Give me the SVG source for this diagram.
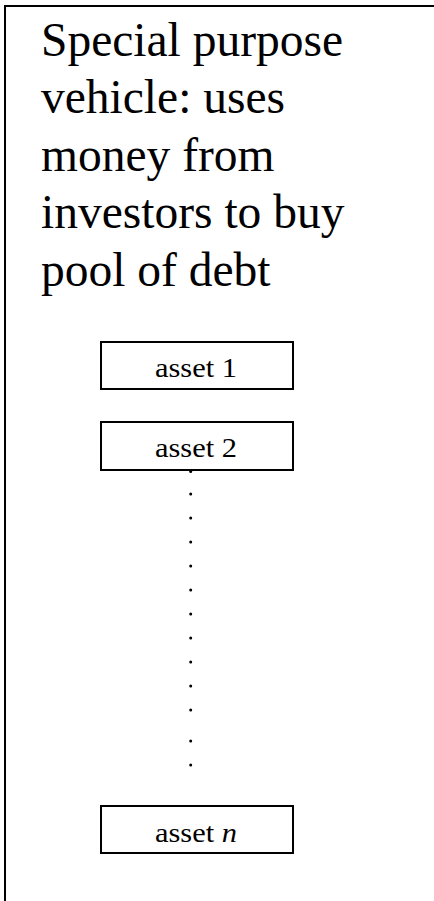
<svg xmlns="http://www.w3.org/2000/svg" width="434" height="901" viewBox="0 0 434 901">
  <style>
    .frame { fill: none; stroke: #000; stroke-width: 2; }
    .box { fill: #fff; stroke: #000; stroke-width: 2; }
    .title { font-family: "Liberation Serif", "Times New Roman", serif; font-size: 47.5px; fill: #000; }
    .label { font-family: "Liberation Serif", "Times New Roman", serif; font-size: 26.5px; fill: #000; text-anchor: middle; }
    .dot { fill: #000; }
  </style>

  <rect width="434" height="901" fill="#fff"/>

  <!-- SPV container: border runs off the right and bottom edges -->
  <g id="spv">
    <rect class="frame" x="5" y="6" width="520" height="1000"/>
    <text class="title">
      <tspan x="41" y="55.7">Special purpose</tspan>
      <tspan x="41" y="113.2">vehicle: uses</tspan>
      <tspan x="41" y="170.8">money from</tspan>
      <tspan x="41" y="228.3">investors to buy</tspan>
      <tspan x="41" y="285.8">pool of debt</tspan>
    </text>
  </g>

  <g id="asset-1">
    <rect class="box" x="101" y="342" width="192" height="47"/>
    <text class="label" x="196" y="377.3" textLength="82" lengthAdjust="spacingAndGlyphs">asset 1</text>
  </g>

  <g id="asset-2">
    <rect class="box" x="101" y="422" width="192" height="48"/>
    <text class="label" x="196" y="457.3" textLength="82" lengthAdjust="spacingAndGlyphs">asset 2</text>
  </g>

  <!-- vertical ellipsis between asset 2 and asset n -->
  <g id="ellipsis">
    <circle class="dot" cx="190.7" cy="471.5" r="1.5"/>
    <circle class="dot" cx="190.7" cy="494" r="1.5"/>
    <circle class="dot" cx="190.7" cy="518" r="1.5"/>
    <circle class="dot" cx="190.7" cy="542" r="1.5"/>
    <circle class="dot" cx="190.7" cy="566" r="1.5"/>
    <circle class="dot" cx="190.7" cy="590" r="1.5"/>
    <circle class="dot" cx="190.7" cy="614" r="1.5"/>
    <circle class="dot" cx="190.7" cy="638" r="1.5"/>
    <circle class="dot" cx="190.7" cy="662" r="1.5"/>
    <circle class="dot" cx="190.7" cy="686" r="1.5"/>
    <circle class="dot" cx="190.7" cy="710" r="1.5"/>
    <circle class="dot" cx="190.7" cy="741" r="1.5"/>
    <circle class="dot" cx="190.7" cy="765" r="1.5"/>
  </g>

  <g id="asset-n">
    <rect class="box" x="101" y="806" width="192" height="47"/>
    <text class="label" x="196" y="842.3" textLength="82" lengthAdjust="spacingAndGlyphs">asset <tspan font-style="italic">n</tspan></text>
  </g>
</svg>
